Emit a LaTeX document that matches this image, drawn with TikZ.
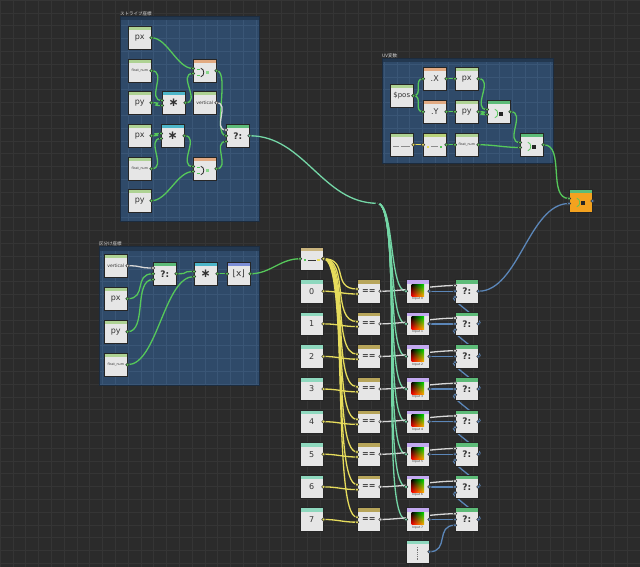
\documentclass[tikz,border=0pt]{standalone}
\usepackage{fontspec}
\setmainfont{DejaVu Sans}
\newfontfamily\jpfont{Noto Sans CJK JP}
\usetikzlibrary{calc,shadings}
\pgfdeclarelayer{bg}\pgfdeclarelayer{wires}\pgfsetlayers{bg,wires,main}
\definecolor{bgc}{HTML}{2B2B2B}
\definecolor{gridc}{HTML}{353535}
\definecolor{panelc}{HTML}{2F4A69}
\definecolor{panelgrid}{HTML}{3A5676}
\definecolor{panelbar}{HTML}{233850}
\definecolor{bodyc}{HTML}{E6E6E6}
\definecolor{hlg}{HTML}{AED293}
\definecolor{hcy}{HTML}{4DB6C9}
\definecolor{hpe}{HTML}{E2AA82}
\definecolor{hgr}{HTML}{5DBB78}
\definecolor{hla}{HTML}{7C8ED6}
\definecolor{htan}{HTML}{C9B47E}
\definecolor{hol}{HTML}{B7A55A}
\definecolor{hmi}{HTML}{8ED8BE}
\definecolor{hli}{HTML}{C2A9F0}
\definecolor{hyg}{HTML}{B9D27A}
\definecolor{orangec}{HTML}{F4A21F}
\definecolor{wg}{HTML}{56C85A}
\definecolor{wy}{HTML}{E6DC5C}
\definecolor{wb}{HTML}{5B86B8}
\definecolor{wm}{HTML}{74D6A6}
\definecolor{ww}{HTML}{D8D8D8}
\definecolor{txtc}{HTML}{333333}
\tikzset{
 gnode/.style={draw=black!85, line width=0.8pt, fill=bodyc, minimum width=23.5pt, minimum height=23.5pt, inner sep=0pt, outer sep=0pt, text=txtc, font=\fontsize{8}{8}\selectfont},
 hdr/.style={path picture={\fill[#1] (path picture bounding box.north west) rectangle ([yshift=-4.3pt]path picture bounding box.north east);}},
 wire/.style={line width=1.3pt, line cap=round},
 titletxt/.style={anchor=south west, inner sep=0pt, text=white!85!black, font=\jpfont\fontsize{4.5}{5}\selectfont},
}
\newcommand\lbl[1]{\raisebox{-1.8pt}{#1}}
\newcommand\gn[5]{%
 \node[gnode,hdr=#4] (#1) at ({#2+11.75},{#3+11.75}) {#5};
 \coordinate (#1-o) at ($(#1.north east)+(0,11.75)$);
 \coordinate (#1-i) at ($(#1.north west)+(0,11.75)$);
 \coordinate (#1-a) at ($(#1.north west)+(0,9.5)$);
 \coordinate (#1-b) at ($(#1.north west)+(0,14.5)$);
 \coordinate (#1-p) at ($(#1.north west)+(0,6)$);
 \coordinate (#1-q) at ($(#1.north west)+(0,17.5)$);}
\newcommand\port[2]{\fill[#2, draw=black!80, line width=0.5pt] (#1) circle[radius=1.8pt];}
\newcommand\wire[4][16]{\begin{pgfonlayer}{wires}\draw[wire,#2] (#3) .. controls +(#1,0) and +(-#1,0) .. (#4);\end{pgfonlayer}\port{#3}{#2}\port{#4}{#2}}
\newcommand\panel[4]{%
 \fill[panelc] (#1,#2) rectangle (#3,#4);
 \begin{scope}
 \clip (#1,#2) rectangle (#3,#4);
 \foreach \x in {0,12.8,...,640} \draw[panelgrid,line width=0.5pt] (\x,#2) -- (\x,#4);
 \foreach \y in {0,12.8,...,570} \draw[panelgrid,line width=0.5pt] (#1,\y) -- (#3,\y);
 \end{scope}
 \fill[panelbar] (#1,#2) rectangle (#3,#2+4.5);
 \draw[black!40!panelc,line width=0.6pt] (#1,#2) rectangle (#3,#4);}
\newcommand\stepico[1]{%
 \draw[wg,line width=0.7pt] ($(#1.center)+(-8,-1.5)$) -- ++(3,0) ($(#1.center)+(-8,5)$) -- ++(3,0);
 \draw[black!85,line width=0.8pt] ($(#1.center)+(-4,-2.5)$) .. controls ($(#1.center)+(0,-2)$) and ($(#1.center)+(0,5.5)$) .. ($(#1.center)+(-4,6)$);
 \fill[wg!70!white] ($(#1.center)+(1,0.2)$) rectangle ($(#1.center)+(4,3.5)$);}
\newcommand\cmbico[1]{%
 \draw[wg,line width=0.8pt] ($(#1.center)+(-4,-2.5)$) .. controls ($(#1.center)+(0,-2)$) and ($(#1.center)+(0,5.5)$) .. ($(#1.center)+(-4,6)$);
 \fill[black!85] ($(#1.center)+(0,0)$) rectangle ($(#1.center)+(4,4)$);}
\begin{document}
\begin{tikzpicture}[x=1pt,y=-1pt]
\useasboundingbox (0,0) rectangle (640,567);
\begin{pgfonlayer}{bg}
\fill[bgc] (0,0) rectangle (640,567);
\foreach \x in {0,12.8,...,640} \draw[gridc,line width=0.5pt] (\x,0) -- (\x,567);
\foreach \y in {0,12.8,...,567} \draw[gridc,line width=0.5pt] (0,\y) -- (640,\y);
\panel{120}{16}{259}{221}
\panel{382}{58}{553}{163}
\panel{99}{246}{259}{385}
\node[titletxt] (t1) at (120,16.5) {ストライプ座標};
\node[titletxt] (t2) at (382,58.5) {UV変数};
\node[titletxt] (t3) at (99,246.5) {区分け座標};
\end{pgfonlayer}
% ---------- group 1
\gn{g1px1}{128}{26}{hlg}{\lbl{px}}
\gn{g1fl1}{128}{59}{hlg}{\lbl{\fontsize{3.3}{4}\selectfont float\_num}}
\gn{g1py1}{128}{91}{hlg}{\lbl{py}}
\gn{g1mul1}{162}{91}{hcy}{\lbl{\fontsize{12}{12}\selectfont\bfseries ∗}}
\gn{g1st1}{193}{59}{hpe}{}
\stepico{g1st1}
\gn{g1vert}{193}{91}{hlg}{\lbl{\fontsize{4.5}{5}\selectfont vertical}}
\gn{g1px2}{128}{124}{hlg}{\lbl{px}}
\gn{g1mul2}{161}{124}{hcy}{\lbl{\fontsize{12}{12}\selectfont\bfseries ∗}}
\gn{g1tern}{226}{124}{hgr}{\lbl{\fontsize{9}{9}\selectfont\bfseries ?:}}
\gn{g1fl2}{128}{157}{hlg}{\lbl{\fontsize{3.3}{4}\selectfont float\_num}}
\gn{g1st2}{193}{157}{hpe}{}
\stepico{g1st2}
\gn{g1py2}{128}{189}{hlg}{\lbl{py}}
% ---------- group 2
\gn{g2pos}{390}{84}{hlg}{\lbl{\fontsize{7}{7}\selectfont\$pos}}
\gn{g2x}{423}{67}{hpe}{\lbl{.X}}
\gn{g2px}{455}{67}{hlg}{\lbl{px}}
\gn{g2y}{423}{100}{hpe}{\lbl{.Y}}
\gn{g2py}{455}{100}{hlg}{\lbl{py}}
\gn{g2cmb}{487}{100}{hgr}{}
\cmbico{g2cmb}
\gn{g2n1}{390}{133}{hlg}{}
\draw[black!45,line width=0.5pt] ($(g2n1.center)+(-9,2)$) -- ++(6,0) ($(g2n1.center)+(-1,2)$) -- ++(9,0);
\gn{g2n2}{423}{133}{hyg}{}
\fill[wy] ($(g2n2.center)+(-8,1)$) rectangle ++(2.5,2);
\draw[black!45,line width=0.5pt] ($(g2n2.center)+(-4,2)$) -- ++(7,0);
\fill[wg] ($(g2n2.center)+(5,1)$) rectangle ++(2.5,2);
\gn{g2n3}{455}{133}{hlg}{\lbl{\fontsize{3.3}{4}\selectfont float\_num}}
\gn{g2fin}{520}{133}{hgr}{}
\cmbico{g2fin}
% ---------- group 3
\gn{g3vert}{104}{254}{hlg}{\lbl{\fontsize{4.5}{5}\selectfont vertical}}
\gn{g3px}{104}{287}{hlg}{\lbl{px}}
\gn{g3py}{104}{320}{hlg}{\lbl{py}}
\gn{g3fl}{104}{353}{hlg}{\lbl{\fontsize{3.3}{4}\selectfont float\_num}}
\gn{g3tern}{153}{262}{hgr}{\lbl{\fontsize{9}{9}\selectfont\bfseries ?:}}
\gn{g3mul}{194}{262}{hcy}{\lbl{\fontsize{12}{12}\selectfont\bfseries ∗}}
\gn{g3floor}{227}{262}{hla}{\lbl{\fontsize{9}{9}\selectfont ⌊x⌋}}
% ---------- centre column
\gn{split}{300}{247}{htan}{}
\fill[wg] ($(split.center)+(-8,0.5)$) rectangle ++(2.5,1.5);
\draw[black!80,line width=0.7pt] ($(split.center)+(-4,1.2)$) -- ++(8,0);
\fill[wy] ($(split.center)+(5.5,0.5)$) rectangle ++(2.5,1.5);
\foreach \k in {0,...,7} {
 \pgfmathsetmacro\ry{279.5+32.6*\k}
 \gn{n\k}{300}{\ry}{hmi}{\lbl{\k}}
 \gn{eq\k}{357}{\ry}{hol}{\lbl{\bfseries ==}}
 \gn{tex\k}{406}{\ry}{hli}{}
 \shade[upper left=black, upper right=green!85!black, lower left=red, lower right=yellow!70!red] ($(tex\k.north west)+(5.5,4.8)$) rectangle ($(tex\k.north west)+(18,17)$);
 \node[inner sep=0pt, font=\fontsize{3}{3}\selectfont, text=black!80] (lab\k) at ($(tex\k.north)+(0,19.6)$) {Input \k};
 \gn{tr\k}{455}{\ry}{hgr}{\lbl{\fontsize{9}{9}\selectfont\bfseries ?:}}
}
\gn{bot}{406}{540}{hmi}{}
\draw[black!55,line width=1.4pt,dash pattern=on 1pt off 0.8pt] ($(bot.center)+(0,-5)$) -- ($(bot.center)+(0,9)$);
% orange output node
\node[gnode,fill=orangec,hdr=hgr] (org) at (580.75,200.75) {};
\coordinate (org-a) at ($(org.north west)+(0,9.5)$);
\coordinate (org-b) at ($(org.north west)+(0,14.5)$);
\coordinate (org-o) at ($(org.north east)+(0,12)$);
\cmbico{org}
\port{org-o}{wb}
% reroute point
\coordinate (rr) at (377.5,203.3);
% ---------- wires group 1
\wire{wg}{g1px1-o}{g1st1-a}
\wire{wg}{g1fl1-o}{g1mul1-a}
\wire{wg}{g1py1-o}{g1mul1-b}
\wire{wg}{g1mul1-o}{g1st1-b}
\wire[14]{wg}{g1st1-o}{g1tern-i}
\wire[14]{ww}{g1vert-o}{g1tern-p}
\wire{wg}{g1px2-o}{g1mul2-a}
\wire{wg}{g1fl2-o}{g1mul2-b}
\wire{wg}{g1mul2-o}{g1st2-a}
\wire{wg}{g1py2-o}{g1st2-b}
\wire[14]{wg}{g1st2-o}{g1tern-q}
% ---------- wires group 2
\wire[10]{wg}{g2pos-o}{g2x-i}
\wire[10]{wg}{g2pos-o}{g2y-i}
\wire{wg}{g2x-o}{g2px-i}
\wire{wg}{g2y-o}{g2py-i}
\wire{wg}{g2px-o}{g2cmb-a}
\wire{wg}{g2py-o}{g2cmb-b}
\wire{wg}{g2cmb-o}{g2fin-a}
\wire{wg}{g2n3-o}{g2fin-b}
\wire{wy}{g2n1-o}{g2n2-i}
\wire{wg}{g2n2-o}{g2n3-i}
\wire[22]{wg}{g2fin-o}{org-a}
% ---------- wires group 3
\wire{ww}{g3vert-o}{g3tern-p}
\wire[20]{wg}{g3px-o}{g3tern-i}
\wire[20]{wg}{g3py-o}{g3tern-q}
\wire{wg}{g3tern-o}{g3mul-a}
\wire[30]{wg}{g3fl-o}{g3mul-b}
\wire{wg}{g3mul-o}{g3floor-i}
\wire[20]{wg}{g3floor-o}{split-i}
% ---------- centre wires
\begin{pgfonlayer}{wires}
\draw[wire,wm] (g1tern-o) .. controls +(55,0) and +(-55,0) .. (rr);
\end{pgfonlayer}
\port{g1tern-o}{wm}
\foreach \k in {0,...,7} {
 \pgfmathsetmacro\cc{17+1.6*\k}
 \begin{pgfonlayer}{wires}
 \draw[wire,wm] (rr) .. controls +(\cc,0) and +(-\cc,0) .. (tex\k-i);
 \end{pgfonlayer}
 \port{tex\k-i}{wm}
 \wire[26]{wy}{split-o}{eq\k-a}
 \wire[14]{wy}{n\k-o}{eq\k-b}
 \wire[20]{ww}{eq\k-o}{tr\k-p}
 \wire[10]{wb}{tex\k-o}{tr\k-i}
}
\fill[black!75, draw=black!90, line width=0.4pt] (rr) circle[radius=1.7pt];
\foreach \k [evaluate=\k as \j using int(\k+1)] in {0,...,6} {
 \wire[10]{wb}{tr\j-o}{tr\k-q}
}
\wire[20]{wb}{bot-o}{tr7-q}
\wire[40]{wb}{tr0-o}{org-b}
\end{tikzpicture}
\end{document}
